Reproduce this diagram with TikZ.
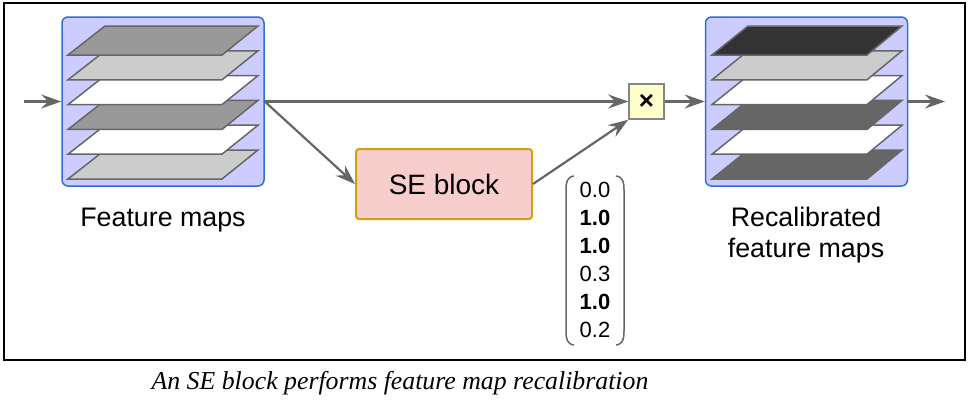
\documentclass[tikz,border=0pt]{standalone}
\usepackage{fontspec}
\setmainfont{Liberation Sans}
\newfontfamily\capfont{Liberation Serif}
\usetikzlibrary{arrows.meta}
\definecolor{lineg}{HTML}{666666}
\definecolor{boxfill}{HTML}{CCCCFF}
\definecolor{boxdraw}{HTML}{2F6FD6}
\definecolor{sefill}{HTML}{F8CECC}
\definecolor{sedraw}{HTML}{D1A00C}
\definecolor{mulfill}{HTML}{FFFFCC}
\definecolor{gA}{HTML}{999999}
\definecolor{gB}{HTML}{CCCCCC}
\definecolor{gC}{HTML}{666666}
\definecolor{gD}{HTML}{333333}
\tikzset{
  fmbox/.style={draw=boxdraw, fill=boxfill, line width=1.5pt, rounded corners=6pt, minimum width=202pt, minimum height=169pt, inner sep=0pt},
  plane/.style={draw=lineg, line width=1.5pt, line join=miter},
  arr/.style={draw=lineg, line width=2.2pt, -{Stealth[length=20pt,width=14pt,inset=7pt]}},
  lbl/.style={font=\fontsize{26.8}{30.5}\selectfont, align=center, inner sep=0pt},
  seblk/.style={draw=sedraw, fill=sefill, line width=2pt, rounded corners=3pt, minimum width=176pt, minimum height=70pt, font=\fontsize{28}{32}\selectfont},
  mulbox/.style={draw=lineg!80, fill=mulfill, line width=1.5pt, minimum width=35pt, minimum height=35pt, inner sep=0pt, font=\bfseries\fontsize{26}{26}\selectfont},
  vec/.style={align=center, inner sep=0pt, font=\fontsize{22}{28}\selectfont},
  paren/.style={draw=lineg, line width=1.5pt},
}
\begin{document}
\begin{tikzpicture}[x=1pt,y=-1pt]
\useasboundingbox (0,0) rectangle (977,405);
\draw[line width=1.5pt] (4,3) rectangle (965,360);

% feature map boxes
\node[fmbox] (fm) at (163,101.5) {};
\node[fmbox] (rfm) at (806.5,101.5) {};

% planes (bottom first)
\foreach \i/\c in {5/gB,4/white,3/gA,2/white,1/gB,0/gA}{
  \filldraw[plane, fill=\c] (68,{55+24.8*\i}) -- (222,{55+24.8*\i}) -- (258,{26+24.8*\i}) -- (105,{26+24.8*\i}) -- cycle;
}
\foreach \i/\c in {5/gC,4/white,3/gC,2/white,1/gB,0/gD}{
  \filldraw[plane, fill=\c] (712,{55+24.8*\i}) -- (867,{55+24.8*\i}) -- (902,{26+24.8*\i}) -- (748,{26+24.8*\i}) -- cycle;
}

\node[lbl, anchor=base] (fmlab) at (163,226) {Feature maps};
\node[lbl] (rfmlab) at (806,235) {Recalibrated\\feature maps};

\node[seblk] (se) at (444,184) {SE block};
\node[mulbox] (mul) at (646.5,101.5) {×};

\coordinate (in) at (24,101.5);
\coordinate (out) at (945,101.5);

\draw[arr] (in) -- (fm.west);
\draw[arr] (fm.east) -- (mul.west);
\draw[arr] (fm.east) -- (se.west);
\draw[arr] (se.east) -- (mul.south west);
\draw[arr] (mul.east) -- (rfm.west);
\draw[arr] (rfm.east) -- (out);

% vector
\node[vec] (v) at (595,260) {0.0\\\textbf{1.0}\\\textbf{1.0}\\0.3\\\textbf{1.0}\\0.2};
\draw[paren] (574,176) .. controls (567,177) and (566,182) .. (566,190) -- (566,331) .. controls (566,339) and (567,344) .. (574,345);
\draw[paren] (616,176) .. controls (623,177) and (624,182) .. (624,190) -- (624,331) .. controls (624,339) and (623,344) .. (616,345);

\node[font=\capfont\itshape\fontsize{25.8}{28}\selectfont, inner sep=0pt] (cap) at (400,383) {An SE block performs feature map recalibration};
\end{tikzpicture}
\end{document}
